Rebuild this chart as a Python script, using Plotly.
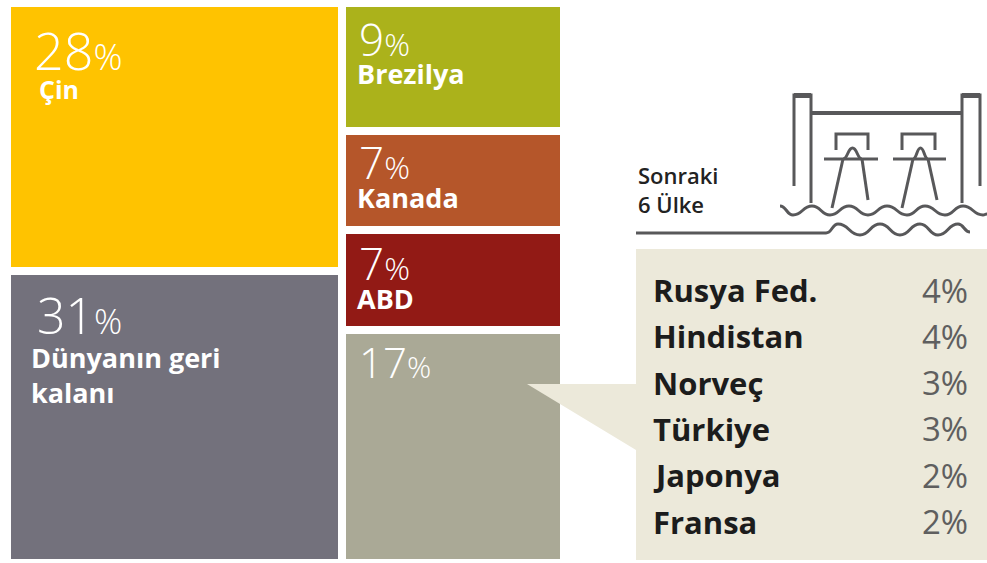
import plotly.graph_objects as go

# ---- data (labels as printed) ----
left_names = ["Dünyanın geri<br>kalanı", "Çin"]
left_values = [30.7, 28.3]
left_labels = ["31", "28"]
right_names = ["", "ABD", "Kanada", "Brezilya"]
right_values = [16.6, 7.1, 7.1, 9.1]
right_labels = ["17", "7", "7", "9"]
next_countries = ["Rusya Fed.", "Hindistan", "Norveç", "Türkiye", "Japonya", "Fransa"]
next_shares = ["4%", "4%", "3%", "3%", "2%", "2%"]

# ---- styles / layout ----
W, H = 987, 563
left_colors = ["#73717C", "#FFC300"]
right_colors = ["#AAA996", "#921A15", "#B5562A", "#ABB21B"]
COL_L = (7, 342)
COL_R = (342, 564)
TOP, BOTTOM = 2.5, 562
FONT = "Open Sans"


def px(x):
    return x / W


def py(y):
    return 1 - y / H


fig = go.Figure()
annotations = []
domain = [py(BOTTOM), py(TOP)]


def big_label(col, axis, values, labels, names, sizes):
    cum = 0
    for v, lab, name, (big, small, nx, ny, nsize, dx, dy) in zip(values, labels, names, sizes):
        cum += v
        annotations.append(dict(
            x=col[0] + dx, y=cum - 0.001, xref="x", yref=axis, xanchor="left", yanchor="top",
            yshift=-dy, showarrow=False,
            text=f'{lab}<span style="font-size:{small}px">%</span>',
            font=dict(family=FONT, size=big, color="white", weight=300),
        ))
        if name:
            annotations.append(dict(
                x=col[0] + nx, y=cum - 0.001, xref="x", yref=axis, xanchor="left", yanchor="top",
                yshift=-ny, showarrow=False, text=name, align="left",
                font=dict(family=FONT, size=nsize, color="white", weight=700),
            ))


for col, axis, vals, cols, names in [
    (COL_L, "y", left_values, left_colors, left_names),
    (COL_R, "y2", right_values, right_colors, right_names),
]:
    for v, c, n in zip(vals, cols, names):
        fig.add_trace(go.Bar(
            x=[(col[0] + col[1]) / 2], y=[v], width=[col[1] - col[0]], yaxis=axis,
            marker=dict(color=c, line=dict(color="white", width=8)),
            name=n.replace("<br>", " ") or "Sonraki 6 Ülke", showlegend=False,
        ))

big_label(COL_L, "y", left_values, left_labels, left_names,
          [(50, 35, 22, 66, 27, 28, 8), (52, 36, 30, 67, 25, 25, 9)])
big_label(COL_R, "y2", right_values, right_labels, right_names,
          [(42, 30, 0, 0, 27, 15, 2), (44, 32, 13, 48, 27, 15, 1),
           (44, 32, 13, 47, 27, 15, 0), (44, 32, 13, 50, 27, 15, 4)])

# call-out panel
panel = f"M{px(636)},{py(249)} L{px(987)},{py(249)} L{px(987)},{py(560)} L{px(636)},{py(560)} L{px(636)},{py(450)} L{px(527)},{py(384)} L{px(636)},{py(384)} Z"
shapes = [dict(type="path", path=panel, xref="paper", yref="paper",
               fillcolor="#ECE9DA", line=dict(width=0), layer="above")]

# dam icon
ICON = "#58585A"


def stroke(points, width=3):
    d = "M" + " L".join(f"{px(x)},{py(y)}" for x, y in points)
    shapes.append(dict(type="path", path=d, xref="paper", yref="paper",
                       line=dict(color=ICON, width=width), layer="above"))


def curve(points, width=3):
    d = f"M{px(points[0][0])},{py(points[0][1])}"
    for (x0, y0), (x1, y1) in zip(points, points[1:]):
        d += f" C{px((x0 + x1) / 2)},{py(y0)} {px((x0 + x1) / 2)},{py(y1)} {px(x1)},{py(y1)}"
    shapes.append(dict(type="path", path=d, xref="paper", yref="paper",
                       line=dict(color=ICON, width=width), layer="above"))


stroke([(794, 186), (794, 95), (811, 95), (811, 203)])
stroke([(794, 95.5), (811, 95.5)], 5)
stroke([(962, 203), (962, 95), (980, 95), (980, 186)])
stroke([(962, 95.5), (980, 95.5)], 5)
stroke([(811, 113), (962, 113)], 4)
for g0, g1, h0, h1, l0, l1, l2, l3, top0, top1 in [
    (836, 868, 824, 878, (843, 159), (832, 208), (862, 159), (868, 200), 843, 862),
    (902, 935, 893, 946, (913, 159), (902, 208), (928, 159), (937, 200), 913, 928),
]:
    stroke([(g0, 150), (g0, 134), (g1, 134), (g1, 150)])
    stroke([(h0, 159), (h1, 159)])
    stroke([l0, l1])
    stroke([l2, l3])
    curve([(top0, 159), ((top0 + top1) / 2, 148), (top1, 159)])
curve([(780, 206), (793, 215), (812, 206), (830, 215), (849, 206), (868, 215),
       (887, 206), (907, 215), (925, 206), (945, 215), (963, 206), (983, 215), (987, 214)])
stroke([(636, 233), (826, 233)], 3)
curve([(826, 233), (838, 224), (860, 235), (880, 224), (900, 235), (920, 224),
       (938, 235), (958, 224), (970, 232)])

annotations.append(dict(
    x=px(636), y=py(158), xref="paper", yref="paper", xanchor="left", yanchor="top",
    showarrow=False, align="left", text="Sonraki<br>6 Ülke",
    font=dict(family=FONT, size=22, color="#222222", weight=600),
))
for i, (name, share) in enumerate(zip(next_countries, next_shares)):
    y = 290 + i * 46.3
    annotations.append(dict(x=px(651), y=py(y), xref="paper", yref="paper", xanchor="left",
                            yanchor="middle", showarrow=False, text=name,
                            font=dict(family=FONT, size=31, color="#1c1c1c", weight=700)))
    annotations.append(dict(x=px(970), y=py(y), xref="paper", yref="paper", xanchor="right",
                            yanchor="middle", showarrow=False, text=share,
                            font=dict(family=FONT, size=33, color="#5f5f5f", weight=400)))

fig.update_layout(
    width=W, height=H, margin=dict(l=0, r=0, t=0, b=0, pad=0, autoexpand=False),
    barmode="stack", bargap=0, paper_bgcolor="white", plot_bgcolor="white",
    showlegend=False, shapes=shapes, annotations=annotations,
    xaxis=dict(range=[0, W], visible=False, domain=[0, 1]),
    yaxis=dict(range=[0, sum(left_values)], visible=False, domain=domain),
    yaxis2=dict(range=[0, sum(right_values)], visible=False, domain=domain,
                overlaying="y", side="right"),
)
fig.write_html("out.html", config=dict(displayModeBar=False),
               post_script="document.body.style.margin='0';document.body.style.overflow='hidden';")
